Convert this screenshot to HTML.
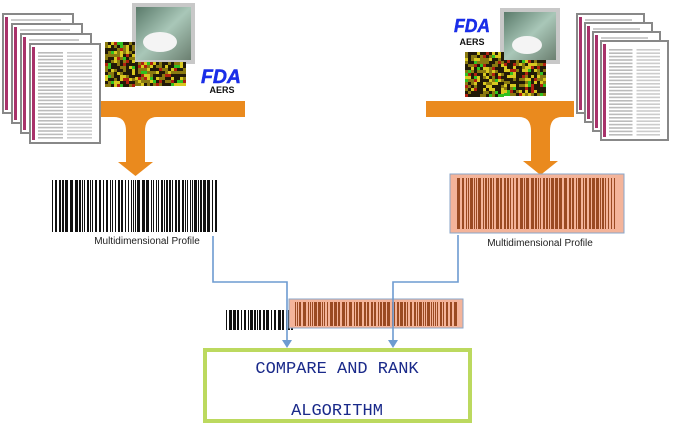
<!DOCTYPE html>
<html><head><meta charset="utf-8"><style>
body{margin:0;background:#fff;}
svg{display:block;}
</style></head><body>
<svg id="s" width="675" height="425" viewBox="0 0 675 425" xmlns="http://www.w3.org/2000/svg" font-family="Liberation Sans, sans-serif">
<defs>
<linearGradient id="mg" x1="0" y1="0" x2="1" y2="1"><stop offset="0" stop-color="#5a7a6a"/><stop offset="0.5" stop-color="#a9c7b8"/><stop offset="1" stop-color="#6b7f70"/></linearGradient>
</defs>
<g id="papersL"></g>
<g id="papersR"></g>
<g id="arrL"></g>
<g id="arrR"></g>
<rect x="132" y="3" width="63" height="61" fill="#c8c8c8"/>
<rect x="136" y="7" width="55" height="53" fill="url(#mg)"/>
<ellipse cx="160" cy="42" rx="17" ry="10" fill="#f4f4f4"/>
<rect x="500" y="8" width="60" height="56" fill="#c8c8c8"/>
<rect x="504" y="12" width="52" height="48" fill="url(#mg)"/>
<ellipse cx="527" cy="45" rx="15" ry="9" fill="#f4f4f4"/>
<text x="221" y="83" font-size="19" font-weight="bold" fill="#1a2ee8" text-anchor="middle" font-style="italic" stroke="#1a2ee8" stroke-width="0.5" textLength="40" lengthAdjust="spacingAndGlyphs">FDA</text>
<text x="222" y="93" font-size="9" font-weight="bold" fill="#111" text-anchor="middle">AERS</text>
<text x="472" y="32" font-size="18" font-weight="bold" fill="#1a2ee8" text-anchor="middle" font-style="italic" stroke="#1a2ee8" stroke-width="0.5" textLength="36" lengthAdjust="spacingAndGlyphs">FDA</text>
<text x="472" y="45" font-size="9" font-weight="bold" fill="#111" text-anchor="middle">AERS</text>
<g id="micro"></g>
<g id="bcL"></g>
<text x="147" y="244" font-size="10" fill="#222" text-anchor="middle">Multidimensional Profile</text>
<rect x="450" y="174" width="174" height="59" fill="#f4b49a" stroke="#8aa6c8" stroke-width="1"/>
<g id="bcR"></g>
<text x="540" y="246" font-size="10" fill="#222" text-anchor="middle">Multidimensional Profile</text>
<g id="bcM"></g>
<rect x="289" y="299" width="174" height="29" fill="#f4b49a" stroke="#8aa6c8" stroke-width="1"/>
<g id="bcM2"></g>
<polyline points="213,236 213,282 287,282 287,343" fill="none" stroke="#6d9bd1" stroke-width="1.6"/>
<polyline points="458,235 458,282 393,282 393,343" fill="none" stroke="#6d9bd1" stroke-width="1.6"/>
<path d="M282,340 L287,348 L292,340 Z" fill="#6d9bd1"/>
<path d="M388,340 L393,348 L398,340 Z" fill="#6d9bd1"/>
<rect x="205" y="350" width="265" height="71" fill="#fff" stroke="#bcd95f" stroke-width="4"/>
<text x="337" y="373" font-family="Liberation Mono, monospace" font-size="17" fill="#1a2a8a" text-anchor="middle">COMPARE AND RANK</text>
<text x="337" y="415" font-family="Liberation Mono, monospace" font-size="17" fill="#1a2a8a" text-anchor="middle">ALGORITHM</text>
</svg>
<script>
var NS="http://www.w3.org/2000/svg";
function el(g,t,a){var e=document.createElementNS(NS,t);for(var k in a)e.setAttribute(k,a[k]);document.getElementById(g).appendChild(e);return e;}
var seed=7;function r(){seed=(seed*9301+49297)%233280;return seed/233280;}
function papers(g,x0,y0,dx,dy,w,h){for(var i=0;i<4;i++){var x=x0+dx*i,y=y0+dy*i;
el(g,'rect',{x:x,y:y,width:w,height:h,fill:'#fff',stroke:'#888',"stroke-width":2});
el(g,'rect',{x:x+2,y:y+3,width:3,height:h-6,fill:'#a8326a'});
if(i==3){for(var j=0;j<26;j++){el(g,'rect',{x:x+8,y:y+8+j*3.4,width:(w-16)/2-2,height:1.6,fill:'#bbb'});el(g,'rect',{x:x+8+(w-16)/2+2,y:y+8+j*3.4,width:(w-16)/2-2,height:1.6,fill:'#ccc'});}}
else{el(g,'rect',{x:x+8,y:y+5,width:w-20,height:2,fill:'#ccc'});}}}
papers('papersL',3,14,9,10,70,99);
papers('papersR',577,14,8,9,67,99);
function micro(x,y,w,h){for(var i=0;i<w;i+=3)for(var j=0;j<h;j+=3){var v=r();var c=v<0.35?'#221a08':v<0.6?'#8a7a10':v<0.8?'#d8c820':v<0.92?'#b02010':'#30c020';el('micro','rect',{x:x+i,y:y+j,width:3,height:3,fill:c});}}
micro(105,42,30,44);micro(135,62,49,24);
micro(465,52,39,44);micro(504,60,41,36);
function bars(g,x,y,w,h,col){var p=x;while(p<x+w){var v=r();var bw=v<0.45?1:(v<0.8?2:3);if(p+bw>x+w)break;el(g,'rect',{x:p,y:y,width:bw,height:h,fill:col});p+=bw+(r()<0.6?1:2);}}
bars('bcL',52,180,165,52,'#111');
bars('bcR',457,178,160,51,'#9a4a22');
bars('bcM',226,310,70,20,'#111');
bars('bcM2',295,302,163,24,'#9a4a22');
function arr(g,x1,x2,yb,vx,vw,ya){
el(g,'path',{d:'M'+x1+','+yb+' L'+x2+','+yb+' L'+x2+','+(yb+16)+' L'+(vx+vw+12)+','+(yb+16)+' Q'+(vx+vw)+','+(yb+16)+' '+(vx+vw)+','+(yb+30)+' L'+(vx+vw)+','+(ya-14)+' L'+(vx+vw+8)+','+(ya-14)+' L'+(vx+vw/2)+','+ya+' L'+(vx-8)+','+(ya-14)+' L'+vx+','+(ya-14)+' L'+vx+','+(yb+30)+' Q'+vx+','+(yb+16)+' '+(vx-12)+','+(yb+16)+' L'+x1+','+(yb+16)+' Z',fill:'#ea8a1e'});}
arr('arrL',101,245,101,126,19,176);
arr('arrR',426,574,101,531,19,175);
</script>
</body></html>
